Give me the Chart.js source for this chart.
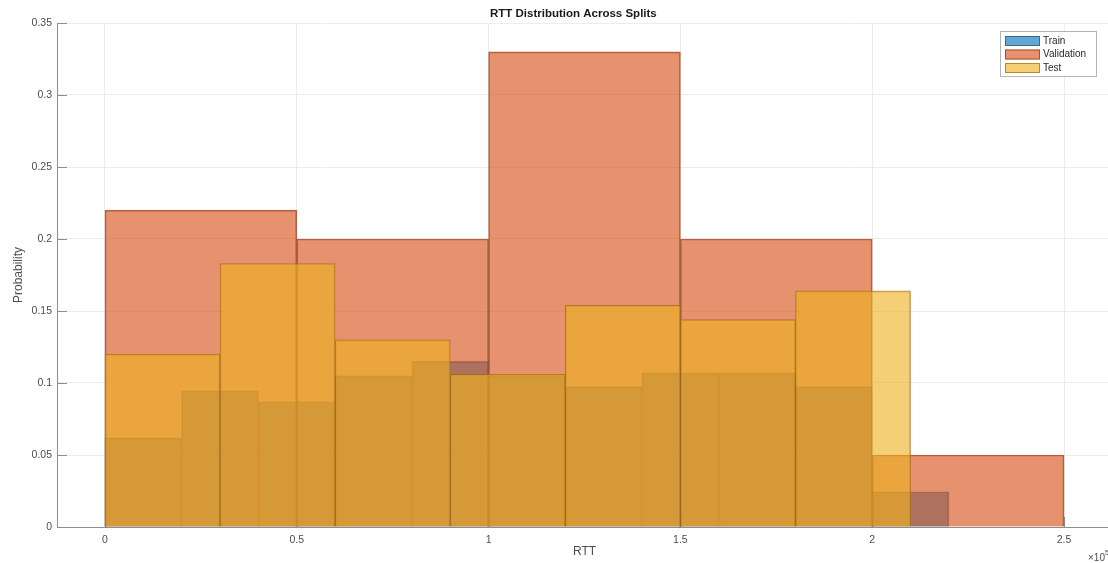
<!DOCTYPE html>
<html>
<head>
<meta charset="utf-8">
<title>RTT Distribution Across Splits</title>
<script src="https://cdn.jsdelivr.net/npm/chart.js@4.4.1/dist/chart.umd.min.js"></script>
<style>
  html, body { margin: 0; padding: 0; background: #fff; overflow: hidden; }
  #wrap { position: relative; width: 1108px; height: 563px; overflow: hidden; }
  canvas { display: block; }
</style>
</head>
<body>
<div id="wrap"><canvas id="chart" width="1112" height="563"></canvas></div>
<script>
// Histogram of RTT (x in units of 1e5) for each split, normalised to probability.
const trainEdges = [0, 0.2, 0.4, 0.6, 0.8, 1.0, 1.2, 1.4, 1.6, 1.8, 2.0, 2.2];
const trainProb = [0.062, 0.0945, 0.087, 0.105, 0.115, 0.105, 0.0975, 0.107, 0.107, 0.0975, 0.0245];

const validationEdges = [0, 0.5, 1.0, 1.5, 2.0, 2.5];
const validationProb = [0.22, 0.20, 0.33, 0.20, 0.05];

const testEdges = [0, 0.3, 0.6, 0.9, 1.2, 1.5, 1.8, 2.1];
const testProb = [0.12, 0.183, 0.13, 0.106, 0.154, 0.144, 0.164];

const xTickValues = [0, 0.5, 1, 1.5, 2, 2.5];
const xTickLabels = ['0', '0.5', '1', '1.5', '2', '2.5'];
const yTickValues = [0, 0.05, 0.1, 0.15, 0.2, 0.25, 0.3, 0.35];
const yTickLabels = ['0', '0.05', '0.1', '0.15', '0.2', '0.25', '0.3', '0.35'];

const X_MIN = -0.125, X_MAX = 2.625;
const FONT = '"Liberation Sans", Arial, Helvetica, sans-serif';

const COLORS = {
  Train:      { fill: 'rgba(0,114,189,0.62)',  edge: 'rgba(40,50,70,0.55)' },
  Validation: { fill: 'rgba(217,83,25,0.63)',  edge: 'rgba(150,65,30,0.8)' },
  Test:       { fill: 'rgba(237,177,32,0.62)', edge: 'rgba(160,105,20,0.7)' }
};

// Bars sit at bin centres; their width comes from the bin spacing on each axis.
const binCenters = edges => edges.slice(0, -1).map((e, i) => (e + edges[i + 1]) / 2);
const binPoints = (edges, probs) => binCenters(edges).map((c, i) => ({ x: c, y: probs[i] }));
const binWidth = edges => edges[1] - edges[0];

// Each split gets its own (hidden) x axis so bin widths do not interfere.
function splitAxis(edges) {
  return {
    type: 'linear', axis: 'x', display: false, position: 'bottom',
    min: X_MIN, max: X_MAX, offset: false,
    grid: { offset: false },
    ticks: { stepSize: binWidth(edges), includeBounds: false }
  };
}

// Short inward tick marks on both axes, drawn beneath the bars.
const innerTicks = {
  id: 'innerTicks',
  beforeDatasetsDraw(chart) {
    const { ctx, chartArea: a, scales: { x, y } } = chart;
    ctx.save();
    ctx.strokeStyle = '#8e8e8e';
    ctx.lineWidth = 1;
    ctx.beginPath();
    yTickValues.forEach(v => {
      const py = Math.round(y.getPixelForValue(v)) + 0.5;
      ctx.moveTo(a.left, py); ctx.lineTo(a.left + 10, py);
    });
    xTickValues.forEach(v => {
      const px = Math.round(x.getPixelForValue(v)) + 0.5;
      ctx.moveTo(px, a.bottom); ctx.lineTo(px, a.bottom - 10);
    });
    ctx.stroke();
    ctx.restore();
  }
};

// Title, exponent note and boxed legend.
const annotations = {
  id: 'annotations',
  afterDraw(chart) {
    const { ctx, chartArea: a } = chart;
    ctx.save();

    ctx.fillStyle = '#1a1a1a';
    ctx.font = 'bold 11.5px ' + FONT;
    ctx.textAlign = 'left';
    ctx.textBaseline = 'middle';
    ctx.fillText('RTT Distribution Across Splits', 490, 14);

    ctx.fillStyle = '#4d4d4d';
    ctx.font = '10px ' + FONT;
    ctx.fillText('\u00d710', 1088, 558);
    const w = ctx.measureText('\u00d710').width;
    ctx.font = '7px ' + FONT;
    ctx.fillText('5', 1088 + w, 553);

    // legend box
    const bx = a.right - 112, by = 31, bw = 96, bh = 45;
    ctx.fillStyle = '#ffffff';
    ctx.fillRect(bx, by, bw, bh);
    ctx.strokeStyle = '#b4b4b4';
    ctx.lineWidth = 1;
    ctx.strokeRect(bx + 0.5, by + 0.5, bw, bh);
    ctx.font = '10px ' + FONT;
    ctx.textBaseline = 'middle';
    chart.data.datasets.forEach((ds, i) => {
      const cy = by + 10 + i * 13.5;
      ctx.fillStyle = ds.backgroundColor;
      ctx.fillRect(bx + 5, cy - 5, 35, 10);
      ctx.strokeStyle = ds.borderColor;
      ctx.strokeRect(bx + 5.5, cy - 4.5, 34, 9);
      ctx.fillStyle = '#262626';
      ctx.fillText(ds.label, bx + 43, cy);
    });
    ctx.restore();
  }
};

const ctx = document.getElementById('chart').getContext('2d');
new Chart(ctx, {
  type: 'bar',
  data: {
    datasets: [
      {
        label: 'Train', data: binPoints(trainEdges, trainProb), xAxisID: 'xTrain', order: 3,
        backgroundColor: COLORS.Train.fill, borderColor: COLORS.Train.edge
      },
      {
        label: 'Validation', data: binPoints(validationEdges, validationProb), xAxisID: 'x', order: 2,
        backgroundColor: COLORS.Validation.fill, borderColor: COLORS.Validation.edge
      },
      {
        label: 'Test', data: binPoints(testEdges, testProb), xAxisID: 'xTest', order: 1,
        backgroundColor: COLORS.Test.fill, borderColor: COLORS.Test.edge
      }
    ]
  },
  options: {
    responsive: false,
    animation: false,
    devicePixelRatio: 1,
    layout: { padding: { top: 23, left: 0, right: 0, bottom: 0 } },
    datasets: {
      bar: { barPercentage: 1, categoryPercentage: 1, grouped: false, borderWidth: 1, borderSkipped: 'start' }
    },
    plugins: {
      legend: { display: false },
      title: { display: false },
      tooltip: { enabled: false }
    },
    scales: {
      x: {
        type: 'linear', position: 'bottom', min: X_MIN, max: X_MAX, offset: false,
        afterFit: s => { s.height = 36; },
        afterBuildTicks: s => { s.ticks = xTickValues.map(v => ({ value: v })); },
        ticks: {
          callback: (v, i) => xTickLabels[i],
          color: '#4d4d4d', padding: 7, maxRotation: 0, autoSkip: false,
          font: { family: FONT, size: 10.5 }
        },
        grid: { offset: false, color: '#ececec', lineWidth: 1, drawTicks: false },
        border: { display: true, color: '#8e8e8e', width: 1 },
        title: {
          display: true, text: 'RTT', color: '#4d4d4d',
          font: { family: FONT, size: 12 }, padding: { top: 0, bottom: 4 }
        }
      },
      xTrain: splitAxis(trainEdges),
      xTest: splitAxis(testEdges),
      y: {
        type: 'linear', position: 'left', min: 0, max: 0.35,
        afterFit: s => { s.width = 57; },
        afterBuildTicks: s => { s.ticks = yTickValues.map(v => ({ value: v })); },
        ticks: {
          callback: (v, i) => yTickLabels[i],
          color: '#4d4d4d', padding: 5,
          font: { family: FONT, size: 10.5 }
        },
        grid: { color: '#ececec', lineWidth: 1, drawTicks: false },
        border: { display: true, color: '#8e8e8e', width: 1 },
        title: {
          display: true, text: 'Probability', color: '#4d4d4d',
          font: { family: FONT, size: 12 }, padding: { top: 11, bottom: 0 }
        }
      }
    }
  },
  plugins: [innerTicks, annotations]
});
</script>
</body>
</html>
